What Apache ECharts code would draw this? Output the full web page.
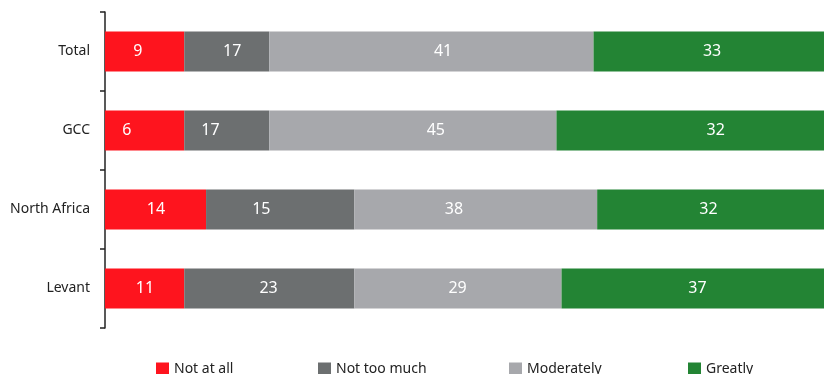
<!DOCTYPE html>
<html>
<head>
    <meta charset="utf-8">
    <title>Opinion by region</title>
    <script src="https://cdn.jsdelivr.net/npm/echarts@6/dist/echarts.min.js"></script>
    <style>
        html, body { margin: 0; padding: 0; background: #fff; }
    </style>
</head>
<body>
    <div id="main" style="width: 824px;height:374px;"></div>
    <script type="text/javascript">
        var regions = ['Total', 'GCC', 'North Africa', 'Levant'];
        var answers = ['Not at all', 'Not too much', 'Moderately', 'Greatly'];
        var colors = ['#fe141e', '#6c6f70', '#a7a8ac', '#238434'];

        // printed percentages
        var notAtAll = [9, 6, 14, 11];
        var notTooMuch = [17, 17, 15, 23];
        var moderately = [41, 45, 38, 29];
        var greatly = [33, 32, 32, 37];

        // segment lengths as drawn in the picture (they do not follow the printed numbers)
        var drawnNotAtAll = [10.9, 10.9, 13.9, 10.9];
        var drawnNotTooMuch = [11.7, 11.7, 20.4, 23.4];
        var drawnModerately = [44.6, 39.5, 33.4, 28.5];
        var drawnGreatly = [32.8, 37.9, 32.3, 37.2];

        var printed = [notAtAll, notTooMuch, moderately, greatly];
        var drawn = [drawnNotAtAll, drawnNotTooMuch, drawnModerately, drawnGreatly];

        var font = '"Noto Sans", "Open Sans", sans-serif';
        var myChart = echarts.init(document.getElementById('main'));

        var series = [];
        answers.forEach(function (name, i) {
            series.push({
                name: name,
                type: 'bar',
                stack: 'drawn',
                barWidth: 40,
                barGap: '-100%',
                clip: true,
                itemStyle: { color: colors[i] },
                data: drawn[i],
                animation: false
            });
        });
        // transparent copy with the printed values, only used to place the labels
        answers.forEach(function (name, i) {
            series.push({
                name: 'label ' + name,
                type: 'bar',
                stack: 'printed',
                barWidth: 40,
                barGap: '-100%',
                clip: false,
                itemStyle: { color: 'rgba(0,0,0,0)' },
                label: {
                    show: true,
                    position: 'inside',
                    color: '#fff',
                    fontSize: 16,
                    fontFamily: font
                },
                silent: true,
                data: printed[i],
                animation: false
            });
        });

        var legendLeft = [151, 313, 504, 683];
        var legends = answers.map(function (name, i) {
            return {
                data: [name],
                left: legendLeft[i],
                top: 357,
                icon: 'rect',
                itemWidth: 13,
                itemHeight: 13,
                itemGap: 0,
                textStyle: { fontSize: 14, color: '#222', fontFamily: font }
            };
        });

        var option = {
            animation: false,
            grid: { left: 105, right: 0, top: 12, bottom: 46, containLabel: false },
            legend: legends,
            xAxis: {
                type: 'value',
                min: 0,
                // the full 100% bar runs a little past the right edge of the picture
                max: 98.9,
                show: false,
                splitLine: { show: false }
            },
            yAxis: {
                type: 'category',
                inverse: true,
                data: regions,
                axisLine: { show: true, lineStyle: { color: '#222', width: 1.5 } },
                axisTick: { show: true, length: 5, lineStyle: { color: '#222', width: 1.5 } },
                axisLabel: { margin: 15, fontSize: 14, color: '#222', fontFamily: font }
            },
            series: series
        };

        myChart.setOption(option);
    </script>
</body>
</html>
